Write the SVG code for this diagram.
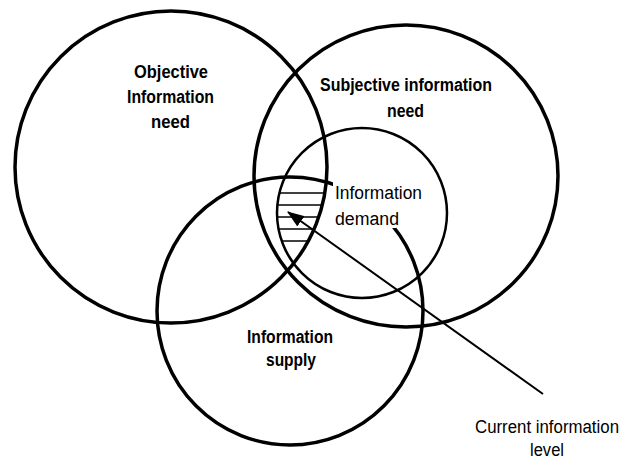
<svg xmlns="http://www.w3.org/2000/svg" width="629" height="459" viewBox="0 0 629 459">
  <style>
    .ring { fill: none; stroke: #000; stroke-width: 3.5; }
    .ring-thin { fill: none; stroke: #000; stroke-width: 2.5; }
    .hatch { stroke: #000; stroke-width: 1.5; }
    .lbl { font-family: "Liberation Sans Narrow", "Arial Narrow", "Liberation Sans", Arial, sans-serif; font-size: 18px; fill: #000; }
    .b { font-weight: bold; }
    .conn { stroke: #000; stroke-width: 2; fill: none; }
  </style>
  <defs>
    <clipPath id="clipInner"><ellipse cx="362" cy="213" rx="85" ry="85"/></clipPath>
    <clipPath id="clipObj"><ellipse cx="171" cy="167" rx="156" ry="156"/></clipPath>
    <clipPath id="clipSup"><ellipse cx="290" cy="311" rx="133" ry="134"/></clipPath>
    <marker id="arrow" viewBox="0 0 16 12" refX="15" refY="6" markerWidth="17" markerHeight="13" markerUnits="userSpaceOnUse" orient="auto">
      <path d="M0,0 L16,6 L0,12 z" fill="#000"/>
    </marker>
  </defs>
  <rect width="629" height="459" fill="#fff"/>

  <g id="supply">
    <ellipse class="ring" cx="290" cy="311" rx="133" ry="134"/>
  </g>
  <g id="objective">
    <ellipse class="ring" cx="171" cy="167" rx="156" ry="156"/>
  </g>
  <g id="subjective">
    <ellipse class="ring" cx="406" cy="176" rx="152" ry="151"/>
  </g>
  <g id="demand">
    <ellipse class="ring-thin" cx="362" cy="213" rx="85" ry="85"/>
  </g>

  <g id="current-level-area" clip-path="url(#clipInner)">
    <g clip-path="url(#clipObj)">
      <g clip-path="url(#clipSup)">
        <line class="hatch" x1="260" y1="193" x2="340" y2="193"/>
        <line class="hatch" x1="260" y1="205" x2="340" y2="205"/>
        <line class="hatch" x1="260" y1="217" x2="340" y2="217"/>
        <line class="hatch" x1="260" y1="229" x2="340" y2="229"/>
        <line class="hatch" x1="260" y1="241" x2="340" y2="241"/>
      </g>
    </g>
  </g>

  <g id="labels">
    <text class="lbl b" x="134" y="78" textLength="74" lengthAdjust="spacingAndGlyphs">Objective</text>
    <text class="lbl b" x="127" y="103" textLength="87" lengthAdjust="spacingAndGlyphs">Information</text>
    <text class="lbl b" x="151" y="128" textLength="39" lengthAdjust="spacingAndGlyphs">need</text>

    <text class="lbl b" x="320" y="91" textLength="172" lengthAdjust="spacingAndGlyphs">Subjective information</text>
    <text class="lbl b" x="387" y="117" textLength="37" lengthAdjust="spacingAndGlyphs">need</text>

    <rect x="333" y="180" width="63" height="48" fill="#fff"/>
    <text class="lbl" x="335" y="199" textLength="87" lengthAdjust="spacingAndGlyphs">Information</text>
    <text class="lbl" x="335" y="225" textLength="64" lengthAdjust="spacingAndGlyphs">demand</text>

    <text class="lbl b" x="247" y="343" textLength="86" lengthAdjust="spacingAndGlyphs">Information</text>
    <text class="lbl b" x="266" y="366" textLength="50" lengthAdjust="spacingAndGlyphs">supply</text>

    <text class="lbl" x="475" y="433" textLength="144" lengthAdjust="spacingAndGlyphs">Current information</text>
    <text class="lbl" x="530" y="456" textLength="34" lengthAdjust="spacingAndGlyphs">level</text>
  </g>

  <g id="connectors">
    <line class="conn" x1="543" y1="394" x2="288" y2="212" marker-end="url(#arrow)"/>
  </g>
</svg>
